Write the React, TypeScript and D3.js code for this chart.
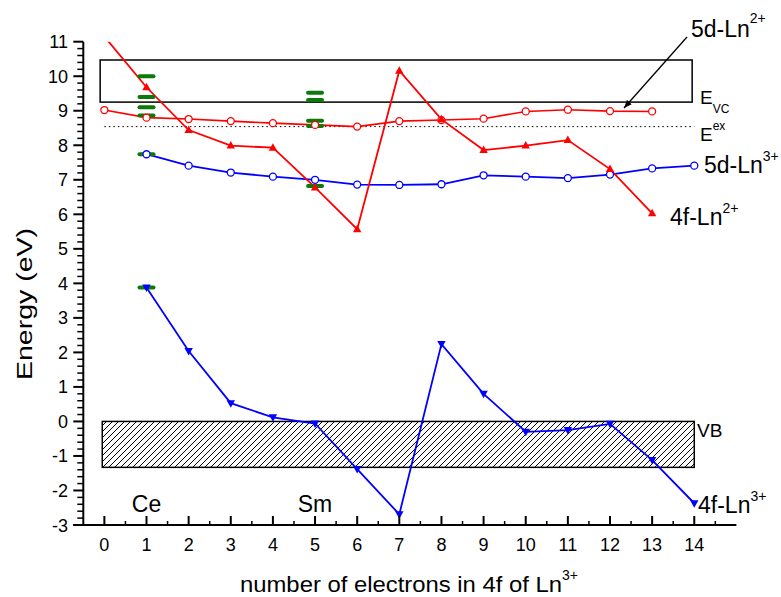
import React from 'react';
import * as d3 from 'd3';

// ---- data ----
const xTickValues = d3.range(0, 15);
const yTickValues = d3.range(-3, 12);

const x5dLn2 = [0, 1, 2, 3, 4, 5, 6, 7, 8, 9, 10, 11, 12, 13];
const e5dLn2 = [9.02, 8.8, 8.76, 8.7, 8.64, 8.59, 8.54, 8.7, 8.73, 8.77, 8.98, 9.03, 8.99, 8.98];

const x5dLn3 = [1, 2, 3, 4, 5, 6, 7, 8, 9, 10, 11, 12, 13, 14];
const e5dLn3 = [7.74, 7.41, 7.21, 7.09, 7.0, 6.86, 6.85, 6.87, 7.13, 7.09, 7.05, 7.15, 7.33, 7.41];

const x4fLn2 = [0, 1, 2, 3, 4, 5, 6, 7, 8, 9, 10, 11, 12, 13];
const e4fLn2 = [11.15, 9.68, 8.44, 7.99, 7.93, 6.78, 5.57, 10.16, 8.75, 7.86, 7.99, 8.15, 7.31, 6.03];

const x4fLn3 = [1, 2, 3, 4, 5, 6, 7, 8, 9, 10, 11, 12, 13, 14];
const e4fLn3 = [3.88, 2.04, 0.53, 0.12, -0.06, -1.38, -2.69, 2.24, 0.8, -0.3, -0.25, -0.07, -1.12, -2.37];

const ceX = 1;
const ceLevels = [10.0, 9.4, 9.1, 8.86, 7.74, 3.88];
const smX = 5;
const smLevels = [9.52, 9.31, 8.71, 8.56, 6.82];

// bands
const cbBand = { x0: -0.1, x1: 13.95, top: 10.47, bottom: 9.25 };
const vbBand = { x0: -0.05, x1: 14, top: 0, bottom: -1.33 };
const excitonLevel = 8.54;
const excitonRange = [0, 14];

const ionLabels = [
  { text: 'Ce', x: 1 },
  { text: 'Sm', x: 5 },
];

const FONT = 'Arial, "Liberation Sans", Helvetica, sans-serif';

export default function App() {
  const x = d3.scaleLinear().domain([-0.5, 15]).range([83.3, 736.4]);
  const y = d3.scaleLinear().domain([-3, 11]).range([525, 41.7]);

  const line = d3
    .line<[number, number]>()
    .x((d) => x(d[0]))
    .y((d) => y(d[1]));

  const pts = (xs: number[], ys: number[]) => xs.map((v, i) => [v, ys[i]] as [number, number]);

  const p5d2 = pts(x5dLn2, e5dLn2);
  const p5d3 = pts(x5dLn3, e5dLn3);
  const p4f2 = pts(x4fLn2, e4fLn2);
  const p4f3 = pts(x4fLn3, e4fLn3);

  const minorY = d3.range(-3, 11.001, 0.2).filter((v) => Math.abs(v - Math.round(v)) > 1e-6);
  const minorX = d3.range(-0.5, 15.001, 1).filter((v) => v > -0.4 && v < 14.9);

  const triUp = (cx: number, cy: number) => `M${cx},${cy - 4.5}L${cx + 4.2},${cy + 3}L${cx - 4.2},${cy + 3}Z`;
  const triDown = (cx: number, cy: number) => `M${cx},${cy + 4.5}L${cx + 4.2},${cy - 3}L${cx - 4.2},${cy - 3}Z`;

  const plotLeft = x(-0.5);
  const plotRight = x(15);
  const plotTop = y(11);
  const plotBottom = y(-3);

  return (
    <svg
      width={781}
      height={597}
      style={{ position: 'absolute', left: 0, top: 0, background: '#fff' }}
      fontFamily={FONT}
    >
      <defs>
        <pattern id="hatch" patternUnits="userSpaceOnUse" width={6} height={6}>
          <path d="M-1,1 L1,-1 M0,6 L6,0 M5,7 L7,5" stroke="#000" strokeWidth={1} />
        </pattern>
        <clipPath id="plotClip">
          <rect x={plotLeft} y={plotTop} width={plotRight - plotLeft} height={plotBottom - plotTop} />
        </clipPath>
        <marker id="arrowHead" viewBox="0 0 10 10" refX={10} refY={5} markerWidth={8} markerHeight={8} orient="auto" markerUnits="userSpaceOnUse">
          <path d="M0,1 L10,5 L0,9 Z" fill="#000" />
        </marker>
      </defs>

      {/* conduction band box */}
      <rect
        x={x(cbBand.x0)}
        y={y(cbBand.top)}
        width={x(cbBand.x1) - x(cbBand.x0)}
        height={y(cbBand.bottom) - y(cbBand.top)}
        fill="none"
        stroke="#000"
        strokeWidth={1.5}
      />
      {/* valence band hatched box */}
      <rect
        x={x(vbBand.x0)}
        y={y(vbBand.top)}
        width={x(vbBand.x1) - x(vbBand.x0)}
        height={y(vbBand.bottom) - y(vbBand.top)}
        fill="url(#hatch)"
        stroke="#000"
        strokeWidth={1.5}
      />
      {/* exciton dotted line */}
      <line
        x1={x(excitonRange[0])}
        x2={x(excitonRange[1])}
        y1={y(excitonLevel)}
        y2={y(excitonLevel)}
        stroke="#000"
        strokeWidth={1}
        strokeDasharray="1.5,3"
      />

      <g clipPath="url(#plotClip)">
        <path d={line(p5d2) || ''} fill="none" stroke="#ff0000" strokeWidth={1.6} />
        <path d={line(p5d3) || ''} fill="none" stroke="#0000ff" strokeWidth={1.8} />
        <path d={line(p4f2) || ''} fill="none" stroke="#ff0000" strokeWidth={1.8} />
        <path d={line(p4f3) || ''} fill="none" stroke="#0000ff" strokeWidth={1.8} />

        {/* green levels */}
        {ceLevels.map((v, i) => (
          <line key={'ce' + i} x1={x(ceX) - 7} x2={x(ceX) + 7} y1={y(v)} y2={y(v)} stroke="#0a7a0a" strokeWidth={4} strokeLinecap="round" />
        ))}
        {smLevels.map((v, i) => (
          <line key={'sm' + i} x1={x(smX) - 7} x2={x(smX) + 7} y1={y(v)} y2={y(v)} stroke="#0a7a0a" strokeWidth={4} strokeLinecap="round" />
        ))}

        {p5d2.map((d, i) => (
          <circle key={'a' + i} cx={x(d[0])} cy={y(d[1])} r={3.5} fill="#fff" stroke="#ff0000" strokeWidth={1.3} />
        ))}
        {p5d3.map((d, i) => (
          <circle key={'b' + i} cx={x(d[0])} cy={y(d[1])} r={3.5} fill="#fff" stroke="#0000ff" strokeWidth={1.3} />
        ))}
        {p4f2.map((d, i) => (
          <path key={'c' + i} d={triUp(x(d[0]), y(d[1]))} fill="#ff0000" />
        ))}
        {p4f3.map((d, i) => (
          <path key={'d' + i} d={triDown(x(d[0]), y(d[1]))} fill="#0000ff" />
        ))}
      </g>

      {/* left axis */}
      <line x1={plotLeft} x2={plotLeft} y1={plotTop} y2={plotBottom} stroke="#000" strokeWidth={2} />
      {yTickValues.map((v) => (
        <g key={'yt' + v}>
          <line x1={plotLeft - 10} x2={plotLeft} y1={y(v)} y2={y(v)} stroke="#000" strokeWidth={2} />
          <text x={68} y={y(v) + 6.5} textAnchor="end" fontSize={18}>
            {v}
          </text>
        </g>
      ))}
      {minorY.map((v, i) => (
        <line key={'ym' + i} x1={plotLeft - 6} x2={plotLeft} y1={y(v)} y2={y(v)} stroke="#000" strokeWidth={1.5} />
      ))}

      {/* bottom axis */}
      <line x1={plotLeft - 10} x2={plotRight} y1={plotBottom} y2={plotBottom} stroke="#000" strokeWidth={2} />
      {xTickValues.map((v) => (
        <g key={'xt' + v}>
          <line x1={x(v)} x2={x(v)} y1={plotBottom} y2={plotBottom - 9} stroke="#000" strokeWidth={2} />
          <text x={x(v)} y={551} textAnchor="middle" fontSize={18}>
            {v}
          </text>
        </g>
      ))}
      {minorX.map((v, i) => (
        <line key={'xm' + i} x1={x(v)} x2={x(v)} y1={plotBottom} y2={plotBottom - 4} stroke="#000" strokeWidth={1.5} />
      ))}

      {/* axis titles */}
      <text x={240} y={592} fontSize={22} textLength={322} lengthAdjust="spacingAndGlyphs">
        number of electrons in 4f of Ln
      </text>
      <text x={562} y={580} fontSize={14}>3+</text>
      <text
        transform="translate(32,304) rotate(-90)"
        x={-76}
        y={0}
        fontSize={22}
        textLength={152}
        lengthAdjust="spacingAndGlyphs"
      >
        Energy (eV)
      </text>

      {/* ion labels */}
      {ionLabels.map((l) => (
        <text key={l.text} x={x(l.x)} y={512} textAnchor="middle" fontSize={23}>
          {l.text}
        </text>
      ))}

      {/* right side labels */}
      <text x={691} y={37} fontSize={23}>
        5d-Ln<tspan fontSize={14} dy={-14}>2+</tspan>
      </text>
      <line x1={687} y1={37} x2={624} y2={108} stroke="#000" strokeWidth={1.3} markerEnd="url(#arrowHead)" />
      <text x={700} y={104} fontSize={19}>
        E<tspan fontSize={12} dy={9}>VC</tspan>
      </text>
      <text x={700} y={141} fontSize={19}>
        E<tspan fontSize={12} dy={-11}>ex</tspan>
      </text>
      <text x={704} y={173} fontSize={23}>
        5d-Ln<tspan fontSize={14} dy={-12}>3+</tspan>
      </text>
      <text x={670} y={225} fontSize={23}>
        4f-Ln<tspan fontSize={14} dy={-12}>2+</tspan>
      </text>
      <text x={697} y={437} fontSize={19}>
        VB
      </text>
      <text x={698} y={513} fontSize={23}>
        4f-Ln<tspan fontSize={14} dy={-12}>3+</tspan>
      </text>
    </svg>
  );
}
